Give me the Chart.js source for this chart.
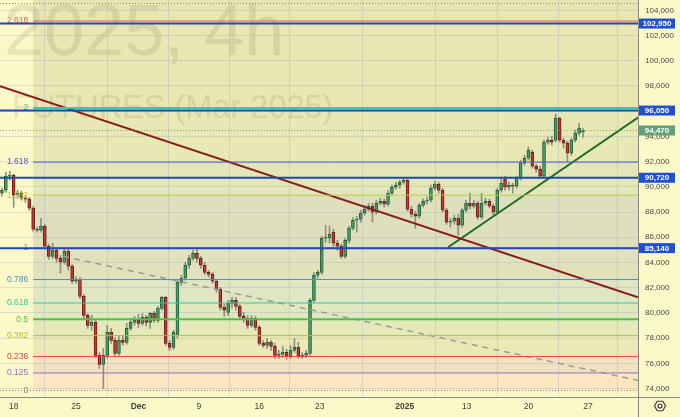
<!DOCTYPE html>
<html>
<head>
<meta charset="utf-8">
<script src="https://cdn.jsdelivr.net/npm/chart.js@4.4.1/dist/chart.umd.min.js"></script>
<style>
  html, body { margin: 0; padding: 0; background: #fdf8c8; }
  canvas { display: block; }
</style>
</head>
<body>
<canvas id="chart" width="680" height="417"></canvas>
<script>
// 4h candles, Nov 18 -> Jan 24 (one entry per candle)
const candleOpen = [89500,89730,90850,90930,89340,89500,89100,89020,88310,86640,86560,86880,85290,84490,84970,84330,84020,84890,83700,82510,
  82670,81320,79810,79020,79250,76630,75920,76630,78460,77820,76790,77820,77670,78780,79250,79410,79170,79650,79250,79970,
  79410,80360,81240,77590,77270,78300,82430,82750,83780,84330,84730,84330,83780,83220,83060,82510,81870,80440,80050,80760,
  81000,80520,79730,79570,79020,79570,78860,77590,77430,77670,77350,76630,76710,76870,76550,77030,77270,76550,76630,76790,
  81000,82990,83220,85920,85920,86400,85530,85290,84490,85760,86720,87350,87430,87910,88230,88460,87990,88700,88860,88620,
  89500,89970,90130,90370,90530,88230,87830,87670,88540,88860,88940,89890,90210,89730,88150,87190,87270,87510,86960,88150,
  88700,88460,88700,87590,88700,88860,88460,87990,89730,90610,89970,90130,90050,90690,91880,92270,92750,91640,91400,90850,
  93550,93700,93700,95450,93700,93470,92670,93700,94260,94380];
const candleHigh = [89890,91160,91240,91000,89730,89650,89340,89180,88460,86800,87510,87030,85450,85530,85130,84570,85130,85050,83860,82910,
  82830,81480,79970,79810,79410,76870,77190,79020,78780,78060,78220,78220,79170,79570,79730,79890,79970,79810,80050,80130,
  80520,81320,81320,77820,78620,82590,82990,84020,84570,84970,85130,84490,84020,83380,83220,82670,82030,80680,81000,81240,
  81240,80680,80050,79810,79810,79730,79020,77820,77980,77820,77590,77030,77350,77110,77430,77980,77670,76870,77030,81160,
  83220,83380,86080,86960,86880,86640,85760,85450,85920,86880,87590,87670,88150,88540,88700,88700,88940,89100,89020,89730,
  90130,90370,90530,90690,90690,88460,88070,88700,89020,89180,90130,90450,90370,89890,88310,87510,87750,87830,88310,88940,
  89500,88940,88860,89500,89100,89020,88620,89890,90770,90850,90370,90290,90850,92120,92510,93150,92910,91800,91640,93700,
  93940,94020,95770,95530,93860,93620,93860,94500,95050,94660];
const candleLow = [89260,89580,90530,88380,89100,88940,88780,88150,86480,86400,86400,85130,84260,84330,84020,83140,83860,83380,82350,82350,
  81160,79570,78780,78620,76470,75600,74010,76390,77590,76630,76630,77430,77510,78620,79020,78860,79020,78940,78780,79250,
  79250,80210,77430,77030,77110,77980,82190,82590,83540,84180,84020,83540,83060,82830,82350,81640,80210,79730,79810,80360,
  80210,79570,79250,78780,78860,78620,77430,77270,77190,77030,76390,76390,76470,76320,76390,76870,76390,76390,76470,76630,
  80840,82750,83060,85610,85530,85290,84970,84330,84330,85530,86560,86400,87190,87750,88070,87190,87830,88540,88380,88460,
  89340,89810,89890,90210,88070,87590,86720,87510,88380,88620,88780,89730,89500,87990,87030,86800,87030,86160,86800,87990,
  88230,88310,87430,87430,88540,88310,87750,87830,89580,89730,89730,89500,89890,90530,91720,92120,91480,91160,90690,90690,
  93390,93310,93550,93550,93070,91960,92510,93550,94100,93940];
const candleClose = [89730,90850,90930,89340,89500,89100,89020,88310,86640,86560,86880,85290,84490,84970,84330,84020,84890,83700,82510,82670,
  81320,79810,79020,79250,76630,75920,76630,78460,77820,76790,77820,77670,78780,79250,79410,79170,79650,79250,79970,79410,
  80360,81240,77590,77270,78460,82430,82750,83780,84330,84730,84330,83780,83220,83060,82510,81870,80440,80210,80760,81000,
  80520,79730,79570,79020,79570,78860,77590,77430,77670,77350,76630,76710,76870,76550,77030,77270,76550,76630,76790,81000,
  82990,83220,85920,86000,86240,85530,85290,84490,85760,86720,87350,87430,87910,88230,88460,87990,88700,88860,88620,89500,
  89970,90130,90370,90530,88230,87830,87670,88540,88860,88940,89890,90210,89730,88150,87190,87270,87510,86960,88150,88700,
  88460,88700,87590,88700,88860,88460,87990,89730,90290,89970,90130,90050,90690,91880,92270,92910,91640,91400,90850,93550,
  93700,93550,95450,93700,93470,92670,93700,94260,94660,94470];

// date axis: candle index of each label
const dateTickPos = [3, 19, 35, 50.5, 66, 81.5, 103.3, 119.2, 135, 150.3];
const dateTickText = ['18', '25', 'Dec', '9', '16', '23', '2025', '13', '20', '27'];
const boldTicks = ['Dec', '2025'];

// price axis ticks
const priceTicks = [74000, 76000, 78000, 80000, 82000, 84000, 86000, 88000, 90000, 92000, 94000, 96000, 98000, 100000, 102000, 104000];

// fibonacci levels
const fibLabels = ['2.618', '2', '1.618', '1.382', '1', '0.786', '0.618', '0.5', '0.382', '0.236', '0.125', '0'];
const fibPrices = [103150, 96250, 91960, 89340, 85140, 82650, 80790, 79500, 78200, 76540, 75240, 73860];
const fibStartIndex = 8;

// horizontal price levels (blue), last price, trend lines
const levelPrices = [102950, 96050, 90720, 85140];
const lastPrice = 94470;
const topDotted = 104580;
const resistanceLine = [[-0.5, 97990], [163.1, 81240]];
const supportLine = [[114.4, 85210], [163.1, 95490]];
const dashedLine = [[15.7, 84490], [163.1, 74650]];

const yMin = 73334, yMax = 104817;
const xMin = -0.5, xMax = 163.1;

// styles
const fibColors = ['#e0604e', '#3ec9a6', '#4a58d8', '#b2cc45', '#888888', '#4f8fc4', '#35c896', '#4cbf4c', '#a8c23c', '#e04848', '#9370cc', '#888888'];
const fibWidths = [1, 2, 1, 1, 1, 1, 1, 2, 1, 1, 1, 1];
const fibTopFill = '#e8e6b0';
const fibFills = ['#e8e7b1', '#e7e8b4', '#e3e7b8', '#dedfbb', '#e0e2bc', '#dfe6c1', '#e0e9be', '#e5e9b9', '#ebe8b6', '#f0e2bf', '#fbe6c0'];
const FONT = '"Liberation Sans", Arial, sans-serif';
const upFill = '#4a9c6a', upLine = '#24603b', downFill = '#c4392f', downLine = '#6e1c18';

const idx = candleOpen.map((_, i) => i);
const isUp = idx.map(i => candleClose[i] >= candleOpen[i]);
const fmt = v => String(Math.round(v)).replace(/\B(?=(\d{3})+(?!\d))/g, ',');
const pts = arr => arr.map(p => ({ x: p[0], y: p[1] }));

const fibPlugin = {
  id: 'fib',
  beforeDraw(chart) {
    const { ctx, chartArea: a, scales: { x, y } } = chart;
    const left = x.getPixelForValue(fibStartIndex);
    ctx.save();
    ctx.fillStyle = fibTopFill;
    ctx.fillRect(left, a.top, a.right - left, y.getPixelForValue(fibPrices[0]) - a.top);
    for (let i = 0; i < fibFills.length; i++) {
      const y1 = y.getPixelForValue(fibPrices[i]);
      const y2 = y.getPixelForValue(fibPrices[i + 1]);
      ctx.fillStyle = fibFills[i];
      ctx.fillRect(left, y1, a.right - left, y2 - y1);
    }
    // watermark
    ctx.fillStyle = 'rgba(95,95,60,0.13)';
    ctx.textBaseline = 'alphabetic';
    ctx.font = '72px ' + FONT;
    ctx.fillText('2025, 4h', 4, 55);
    ctx.font = '32.5px ' + FONT;
    ctx.fillText('FUTURES (Mar 2025)', 12, 118);
    ctx.restore();
  },
  afterDatasetsDraw(chart) {
    const { ctx, chartArea: a, scales: { x, y } } = chart;
    const left = x.getPixelForValue(fibStartIndex);
    ctx.save();
    // dotted lines
    ctx.setLineDash([1, 2]);
    ctx.lineWidth = 1;
    ctx.strokeStyle = '#8a8a80';
    [topDotted, fibPrices[fibPrices.length - 1]].forEach(p => {
      const py = Math.round(y.getPixelForValue(p)) + 0.5;
      ctx.beginPath(); ctx.moveTo(a.left, py); ctx.lineTo(a.right, py); ctx.stroke();
    });
    ctx.strokeStyle = 'rgba(80,150,105,0.75)';
    const lp = Math.round(y.getPixelForValue(lastPrice)) + 0.5;
    ctx.beginPath(); ctx.moveTo(a.left, lp); ctx.lineTo(a.right, lp); ctx.stroke();
    ctx.setLineDash([]);
    // fib lines and labels
    ctx.font = '8.5px ' + FONT;
    ctx.textAlign = 'right';
    ctx.textBaseline = 'middle';
    for (let i = 0; i < fibPrices.length - 1; i++) {
      const py = y.getPixelForValue(fibPrices[i]);
      ctx.strokeStyle = fibColors[i];
      ctx.lineWidth = fibWidths[i];
      ctx.beginPath(); ctx.moveTo(left, py); ctx.lineTo(a.right, py); ctx.stroke();
    }
    for (let i = 0; i < fibPrices.length; i++) {
      ctx.fillStyle = fibColors[i];
      ctx.fillText(fibLabels[i], left - 5, y.getPixelForValue(fibPrices[i]));
    }
    // blue levels
    ctx.strokeStyle = '#2246bb';
    ctx.lineWidth = 2;
    levelPrices.forEach(p => {
      const py = y.getPixelForValue(p);
      ctx.beginPath(); ctx.moveTo(a.left, py); ctx.lineTo(a.right, py); ctx.stroke();
    });
    ctx.restore();
  },
  afterDraw(chart) {
    const { ctx, chartArea: a, scales: { y } } = chart;
    const W = chart.width, H = chart.height;
    ctx.save();
    ctx.strokeStyle = '#8a8a80';
    ctx.lineWidth = 1;
    ctx.beginPath();
    ctx.moveTo(a.right + 0.5, 0); ctx.lineTo(a.right + 0.5, H);
    ctx.moveTo(0, a.bottom + 0.5); ctx.lineTo(W, a.bottom + 0.5);
    ctx.stroke();
    // price tags
    ctx.font = 'bold 8px ' + FONT;
    ctx.textAlign = 'center';
    ctx.textBaseline = 'middle';
    const tag = (p, bg) => {
      const py = y.getPixelForValue(p);
      ctx.fillStyle = bg;
      ctx.fillRect(a.right + 1, py - 5, 36, 10);
      ctx.fillStyle = '#ffffff';
      ctx.fillText(fmt(p), a.right + 19, py + 0.5);
    };
    levelPrices.forEach(p => tag(p, '#1e4fd6'));
    tag(lastPrice, '#62a07c');
    // settings icon
    const cx = 660, cy = 406;
    ctx.strokeStyle = '#3c3c3c';
    ctx.lineWidth = 1.2;
    ctx.beginPath();
    for (let k = 0; k < 6; k++) {
      const ang = Math.PI / 3 * k;
      const px = cx + 5.5 * Math.cos(ang), py = cy + 5.5 * Math.sin(ang);
      k === 0 ? ctx.moveTo(px, py) : ctx.lineTo(px, py);
    }
    ctx.closePath(); ctx.stroke();
    ctx.beginPath(); ctx.arc(cx, cy, 2, 0, Math.PI * 2); ctx.stroke();
    ctx.restore();
  }
};

const gridColor = 'rgba(165,170,205,0.35)';
const noPad = s => { s.paddingTop = 0; s.paddingBottom = 0; s.paddingLeft = 0; s.paddingRight = 0; };

new Chart(document.getElementById('chart'), {
  type: 'bar',
  data: {
    datasets: [
      { type: 'line', data: pts(resistanceLine), borderColor: '#8b1c1c', borderWidth: 2, pointRadius: 0, order: 0 },
      { type: 'line', data: pts(supportLine), borderColor: '#1f6b24', borderWidth: 2, pointRadius: 0, order: 0 },
      { type: 'line', data: pts(dashedLine), borderColor: '#9c9c94', borderWidth: 1.5, borderDash: [6, 5], pointRadius: 0, order: 0 },
      {
        data: idx.map(i => ({ x: i, y: [candleOpen[i], candleClose[i]] })),
        backgroundColor: idx.map(i => isUp[i] ? upFill : downFill),
        borderColor: idx.map(i => isUp[i] ? upLine : downLine),
        borderWidth: 1, borderSkipped: false, barThickness: 3, minBarLength: 1, grouped: false, order: 1
      },
      {
        data: idx.map(i => ({ x: i, y: [candleLow[i], candleHigh[i]] })),
        backgroundColor: '#8f8f86', barThickness: 1, grouped: false, order: 2
      }
    ]
  },
  options: {
    responsive: false,
    animation: false,
    devicePixelRatio: 1,
    layout: { padding: 0 },
    plugins: { legend: { display: false }, tooltip: { enabled: false } },
    scales: {
      x: {
        type: 'linear', min: xMin, max: xMax, offset: false,
        afterBuildTicks: s => { s.ticks = dateTickPos.map(v => ({ value: v })); },
        afterFit: s => { s.height = 20; noPad(s); },
        grid: { color: gridColor, drawTicks: false },
        border: { display: false },
        ticks: {
          autoSkip: false, maxRotation: 0, padding: 5, color: '#3f3f3f',
          font: c => ({ family: FONT, size: 8.5, weight: boldTicks.includes(dateTickText[c.index]) ? 'bold' : 'normal' }),
          callback: (v, i) => dateTickText[i]
        }
      },
      y: {
        position: 'right', min: yMin, max: yMax,
        afterBuildTicks: s => { s.ticks = priceTicks.map(v => ({ value: v })); },
        afterFit: s => { s.width = 42; noPad(s); },
        grid: { color: gridColor, drawTicks: false },
        border: { display: false },
        ticks: { autoSkip: false, padding: 7, color: '#4a4a4a', font: { family: FONT, size: 8 }, callback: v => fmt(v) }
      }
    }
  },
  plugins: [fibPlugin]
});
</script>
</body>
</html>
